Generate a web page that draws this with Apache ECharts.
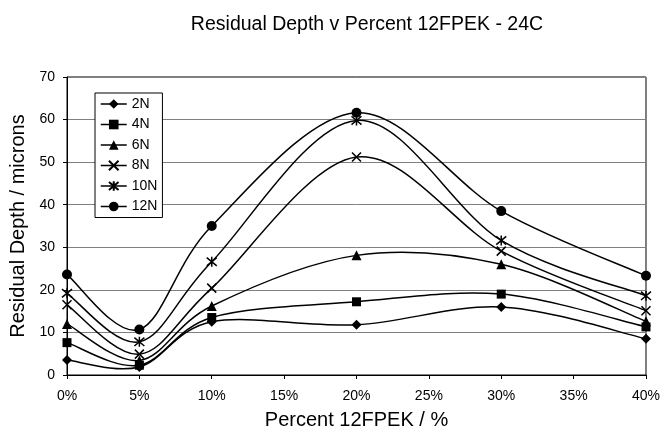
<!DOCTYPE html>
<html>
<head>
<meta charset="utf-8">
<script src="https://cdn.jsdelivr.net/npm/echarts@6/dist/echarts.min.js"></script>
<style>
  html, body { margin: 0; padding: 0; background: #fff; }
  #chart { width: 663px; height: 435px; }
</style>
</head>
<body>
<div id="chart"></div>
<script>
// Percent 12FPEK (x) and residual depth in microns per load
const percents = [0, 5, 10, 20, 30, 40];
const xTicks = [0, 5, 10, 15, 20, 25, 30, 35, 40];
const yTicks = [0, 10, 20, 30, 40, 50, 60, 70];
const loads = ['2N', '4N', '6N', '8N', '10N', '12N'];
const depth2N  = [3.5, 1.9, 12.5, 11.8, 16.0, 8.5];
const depth4N  = [7.6, 2.3, 13.5, 17.2, 19.0, 11.3];
const depth6N  = [12.0, 3.4, 16.2, 28.1, 26.0, 12.6];
const depth8N  = [16.5, 4.9, 20.4, 51.2, 29.1, 15.1];
const depth10N = [19.2, 7.8, 26.6, 59.8, 31.6, 18.6];
const depth12N = [23.6, 10.7, 35.0, 61.6, 38.5, 23.3];

const allDepths = [depth2N, depth4N, depth6N, depth8N, depth10N, depth12N];
const symbols = [
  'diamond',
  'rect',
  'triangle',
  'path://M0,0L10,10M10,0L0,10',
  'path://M0,0L10,10M10,0L0,10M5,-1L5,11',
  'circle'
];
const sizes = [10, 9, 10, 9, 10, 10];
const FONT = 'Liberation Sans, Arial, sans-serif';

// Smooth curve through the points (Catmull-Rom style Bezier segments),
// positioned with the cartesian axes via api.coord
function curveRenderer(values) {
  return function (params, api) {
    const pts = percents.map((p, j) => api.coord([p, values[j]]));
    const n = pts.length;
    const t = 1 / 6;
    const children = [];
    for (let i = 0; i < n - 1; i++) {
      const p0 = pts[Math.max(i - 1, 0)];
      const p1 = pts[i];
      const p2 = pts[i + 1];
      const p3 = pts[Math.min(i + 2, n - 1)];
      children.push({
        type: 'bezierCurve',
        shape: {
          x1: p1[0], y1: p1[1],
          x2: p2[0], y2: p2[1],
          cpx1: p1[0] + (p2[0] - p0[0]) * t,
          cpy1: p1[1] + (p2[1] - p0[1]) * t,
          cpx2: p2[0] - (p3[0] - p1[0]) * t,
          cpy2: p2[1] - (p3[1] - p1[1]) * t
        },
        style: { stroke: '#000', lineWidth: 1.5, fill: null }
      });
    }
    return { type: 'group', children: children };
  };
}

const curveSeries = loads.map((name, i) => ({
  name: name + ' curve',
  type: 'custom',
  coordinateSystem: 'cartesian2d',
  data: [[percents[0], allDepths[i][0]]],
  renderItem: curveRenderer(allDepths[i]),
  silent: true,
  z: 2
}));

const markerSeries = loads.map((name, i) => ({
  name: name,
  type: 'line',
  data: percents.map((p, j) => [p, allDepths[i][j]]),
  symbol: symbols[i],
  symbolSize: sizes[i],
  lineStyle: { color: '#000', width: 1.5, opacity: 0 },
  itemStyle: {
    color: '#000',
    borderColor: '#000',
    borderWidth: (i === 3 || i === 4) ? 1.5 : 0
  },
  z: 3
}));

const chart = echarts.init(document.getElementById('chart'));
chart.setOption({
  animation: false,
  backgroundColor: '#fff',
  textStyle: { fontFamily: FONT, color: '#000' },
  title: {
    text: 'Residual Depth v Percent 12FPEK - 24C',
    left: 362,
    top: 10,
    textAlign: 'center',
    textStyle: { fontSize: 19.5, fontWeight: 'normal', color: '#000', fontFamily: FONT }
  },
  legend: {
    orient: 'vertical',
    left: 95,
    top: 93,
    data: loads,
    backgroundColor: '#fff',
    borderColor: '#000',
    borderWidth: 1,
    borderRadius: 0,
    padding: [4, 5, 4, 5],
    itemGap: 6.5,
    itemWidth: 26,
    itemHeight: 12,
    lineStyle: { color: '#000', width: 1.5, opacity: 1 },
    textStyle: { fontSize: 14, color: '#000', fontFamily: FONT }
  },
  grid: {
    left: 67,
    right: 16,
    top: 77,
    bottom: 58,
    show: true,
    borderColor: '#000',
    borderWidth: 1
  },
  xAxis: {
    type: 'value',
    min: xTicks[0],
    max: xTicks[xTicks.length - 1],
    interval: 5,
    name: 'Percent 12FPEK / %',
    nameLocation: 'middle',
    nameGap: 35,
    nameTextStyle: { fontSize: 20, color: '#000' },
    axisLine: { show: true, lineStyle: { color: '#000', width: 1 } },
    axisTick: { show: true, length: 4, lineStyle: { color: '#000' } },
    axisLabel: { formatter: '{value}%', fontSize: 14, color: '#000', margin: 14 },
    splitLine: { show: false }
  },
  yAxis: {
    type: 'value',
    min: yTicks[0],
    max: yTicks[yTicks.length - 1],
    interval: 10,
    name: 'Residual Depth / microns',
    nameLocation: 'middle',
    nameGap: 36,
    nameTextStyle: { fontSize: 20, color: '#000' },
    axisLine: { show: true, lineStyle: { color: '#000', width: 1 } },
    axisTick: { show: true, length: 4, lineStyle: { color: '#000' } },
    axisLabel: { fontSize: 14, color: '#000', margin: 12 },
    splitLine: { show: true, lineStyle: { color: '#808080', width: 1 } }
  },
  series: curveSeries.concat(markerSeries)
});
</script>
</body>
</html>
